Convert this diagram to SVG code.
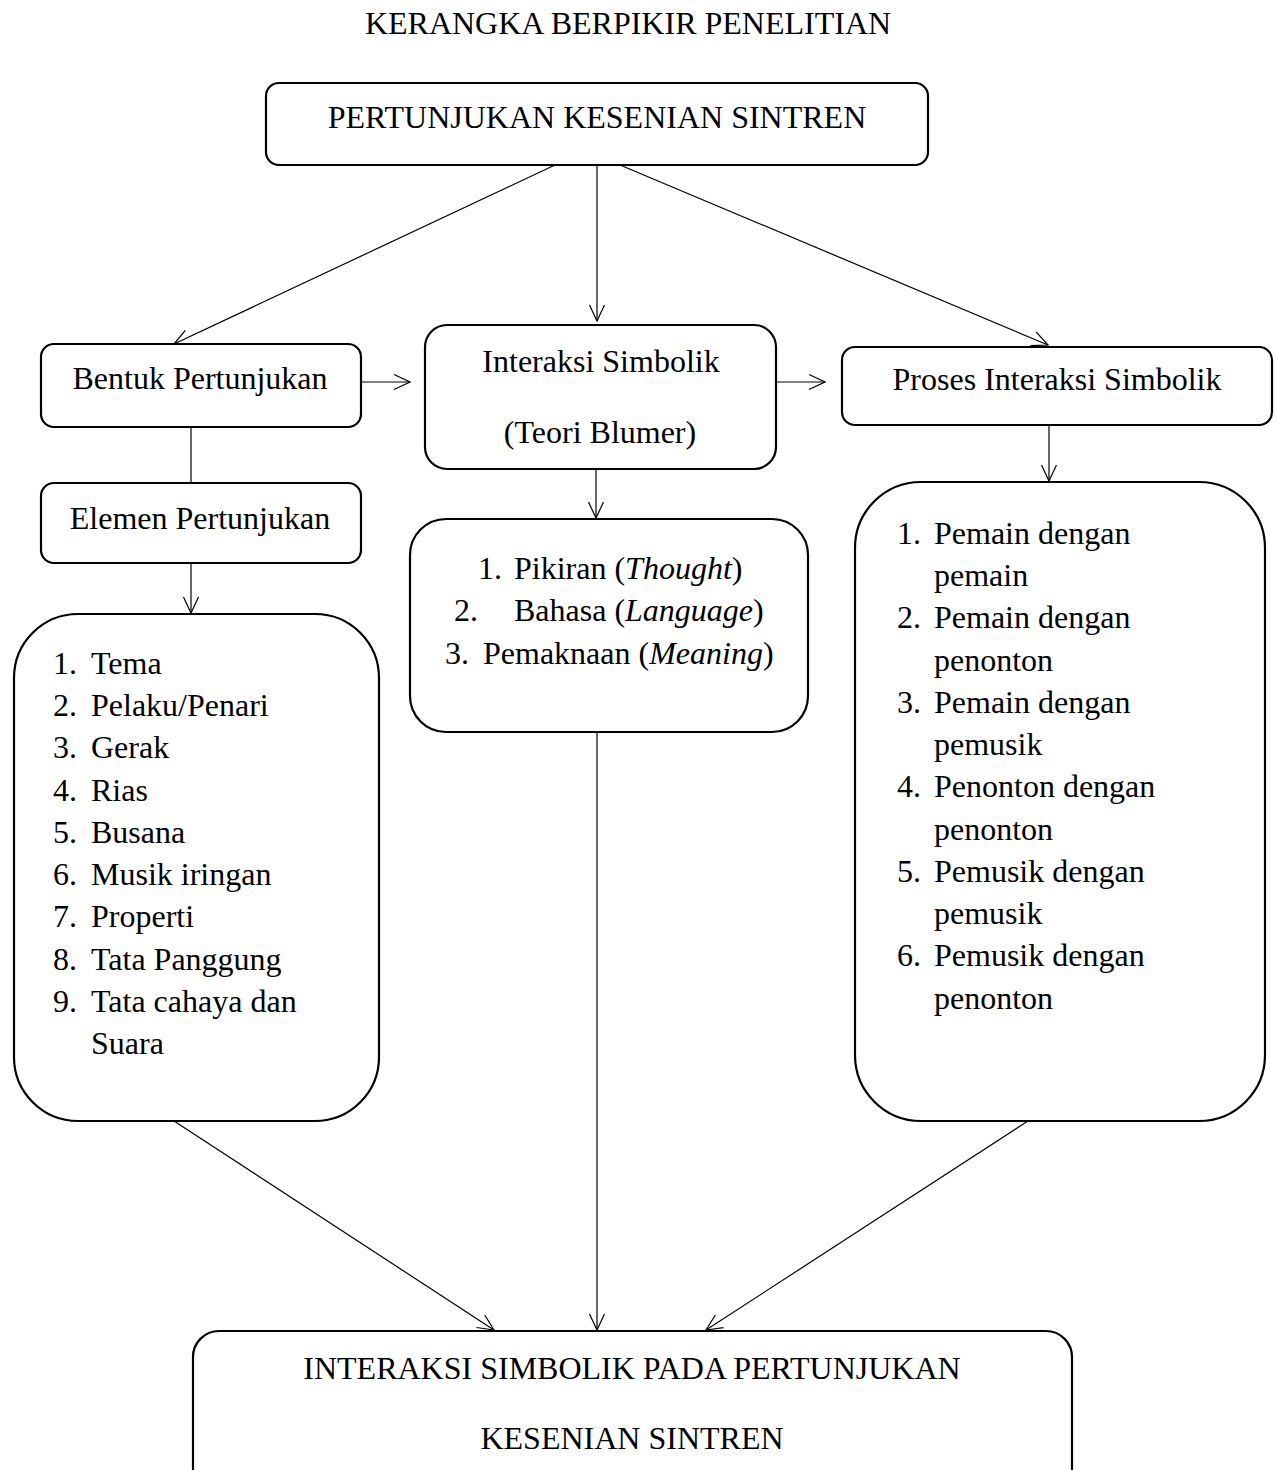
<svg xmlns="http://www.w3.org/2000/svg" width="1277" height="1470" viewBox="0 0 1277 1470">
<style>
  text { font-family: "Liberation Serif", "Times New Roman", serif; font-size: 32px; fill: #000; }
  .c { text-anchor: middle; }
  .box { fill: #fff; stroke: #000; stroke-width: 2.2; }
  .con { fill: none; stroke: #000; stroke-width: 1.2; }
  .it { font-style: italic; }
</style>
<defs>
  <marker id="arr" viewBox="0 0 18 18" refX="17" refY="9" markerWidth="18" markerHeight="18" markerUnits="userSpaceOnUse" orient="auto">
    <path d="M1,1.5 L17,9 L1,16.5" fill="none" stroke="#000" stroke-width="1.2"/>
  </marker>
</defs>
<rect width="1277" height="1470" fill="#fff"/>
<text id="title" class="c" x="628" y="34">KERANGKA BERPIKIR PENELITIAN</text>

<g id="connectors">
  <line class="con" x1="555" y1="165" x2="174" y2="344" marker-end="url(#arr)"/>
  <line class="con" x1="597" y1="165" x2="597" y2="321" marker-end="url(#arr)"/>
  <line class="con" x1="620" y1="165" x2="1048" y2="345" marker-end="url(#arr)"/>
  <line class="con" x1="361" y1="382" x2="410" y2="382" marker-end="url(#arr)"/>
  <line class="con" x1="776" y1="382" x2="825" y2="382" marker-end="url(#arr)"/>
  <line class="con" x1="191" y1="427" x2="191" y2="483"/>
  <line class="con" x1="191" y1="563" x2="191" y2="613" marker-end="url(#arr)"/>
  <line class="con" x1="596" y1="469" x2="596" y2="518" marker-end="url(#arr)"/>
  <line class="con" x1="1049" y1="425" x2="1049" y2="481" marker-end="url(#arr)"/>
  <line class="con" x1="174" y1="1121" x2="494" y2="1330" marker-end="url(#arr)"/>
  <line class="con" x1="597" y1="732" x2="597" y2="1330" marker-end="url(#arr)"/>
  <line class="con" x1="1028" y1="1121" x2="706" y2="1330" marker-end="url(#arr)"/>
</g>

<g id="node-top">
  <rect class="box" x="266" y="83" width="662" height="82" rx="13"/>
  <text class="c" x="597" y="128">PERTUNJUKAN KESENIAN SINTREN</text>
</g>

<g id="node-bentuk">
  <rect class="box" x="41" y="344" width="320" height="83" rx="13"/>
  <text class="c" x="200" y="389">Bentuk Pertunjukan</text>
</g>

<g id="node-interaksi">
  <rect class="box" x="425" y="325" width="351" height="144" rx="22"/>
  <text class="c" x="601" y="372">Interaksi Simbolik</text>
  <text class="c" x="600" y="443">(Teori Blumer)</text>
</g>

<g id="node-proses">
  <rect class="box" x="842" y="347" width="430" height="78" rx="13"/>
  <text class="c" x="1057" y="390">Proses Interaksi Simbolik</text>
</g>

<g id="node-elemen">
  <rect class="box" x="41" y="483" width="320" height="80" rx="13"/>
  <text class="c" x="200" y="529">Elemen Pertunjukan</text>
</g>

<g id="node-elemen-list">
  <rect class="box" x="14" y="614" width="365" height="507" rx="64"/>
  <text x="53" y="674">1.</text><text x="91" y="674">Tema</text>
  <text x="53" y="716">2.</text><text x="91" y="716">Pelaku/Penari</text>
  <text x="53" y="758">3.</text><text x="91" y="758">Gerak</text>
  <text x="53" y="801">4.</text><text x="91" y="801">Rias</text>
  <text x="53" y="843">5.</text><text x="91" y="843">Busana</text>
  <text x="53" y="885">6.</text><text x="91" y="885">Musik iringan</text>
  <text x="53" y="927">7.</text><text x="91" y="927">Properti</text>
  <text x="53" y="970">8.</text><text x="91" y="970">Tata Panggung</text>
  <text x="53" y="1012">9.</text><text x="91" y="1012">Tata cahaya dan</text>
  <text x="91" y="1054">Suara</text>
</g>

<g id="node-blumer-list">
  <rect class="box" x="410" y="519" width="398" height="213" rx="36"/>
  <text x="478" y="579">1.</text><text x="514" y="579">Pikiran (<tspan class="it">Thought</tspan>)</text>
  <text x="454" y="621">2.</text><text x="514" y="621">Bahasa (<tspan class="it">Language</tspan>)</text>
  <text x="445" y="664">3.</text><text x="483" y="664">Pemaknaan (<tspan class="it">Meaning</tspan>)</text>
</g>

<g id="node-proses-list">
  <rect class="box" x="855" y="482" width="410" height="639" rx="66"/>
  <text x="897" y="544">1.</text><text x="934" y="544">Pemain dengan</text>
  <text x="934" y="586">pemain</text>
  <text x="897" y="628">2.</text><text x="934" y="628">Pemain dengan</text>
  <text x="934" y="671">penonton</text>
  <text x="897" y="713">3.</text><text x="934" y="713">Pemain dengan</text>
  <text x="934" y="755">pemusik</text>
  <text x="897" y="797">4.</text><text x="934" y="797">Penonton dengan</text>
  <text x="934" y="840">penonton</text>
  <text x="897" y="882">5.</text><text x="934" y="882">Pemusik dengan</text>
  <text x="934" y="924">pemusik</text>
  <text x="897" y="966">6.</text><text x="934" y="966">Pemusik dengan</text>
  <text x="934" y="1009">penonton</text>
</g>

<g id="node-bottom">
  <rect class="box" x="193" y="1331" width="879" height="170" rx="26"/>
  <text class="c" x="632" y="1379">INTERAKSI SIMBOLIK PADA PERTUNJUKAN</text>
  <text class="c" x="632" y="1449">KESENIAN SINTREN</text>
</g>
</svg>
